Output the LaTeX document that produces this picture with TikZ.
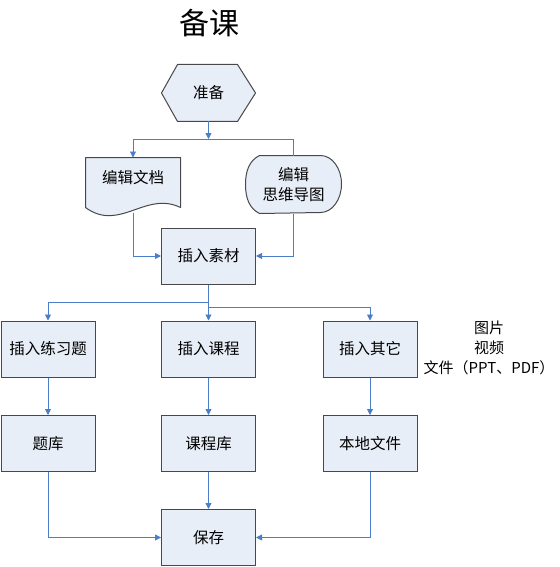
\documentclass[tikz,border=0pt]{standalone}
\usepackage{fontspec}
\newfontfamily\zhfont{Noto Sans CJK SC}
\usetikzlibrary{arrows.meta,backgrounds}
\definecolor{linkblue}{RGB}{74,126,198}
\definecolor{boxfill}{RGB}{232,238,247}
\definecolor{boxline}{RGB}{72,72,72}
\newcommand{\boxfont}{\zhfont\fontsize{15.5}{20}\selectfont}

\begin{document}
\begin{tikzpicture}[x=1pt, y=-1pt]
            \tikzset{box/.style = {draw=boxline, fill=boxfill, line width=1pt, inner sep=0pt,
                        minimum width=94pt, minimum height=56pt, font=\boxfont, align=center}}
            \tikzset{shapebox/.style = {box, draw=none, fill=none}}
            \tikzset{outline/.style = {draw=boxline, fill=boxfill, line width=1pt, line join=round}}
            \tikzset{link/.style = {draw=linkblue, line width=0.9pt}}
            \tikzset{arr/.style = {link, -{Triangle[width=6pt, length=6pt]}}}
            \useasboundingbox (0,0) rectangle (559,567);
            \node[font=\zhfont\fontsize{30}{30}\selectfont] (title) at (209,23) {备课};

            \node[shapebox, minimum width=93pt] (zb) at (208.5,93) {准备};
            \node[shapebox, minimum height=49pt] (wd) at (133,182.5) {};
            \node[font=\boxfont] (wdtext) at (133,178) {编辑文档};
            \node[shapebox, minimum width=95pt, minimum height=57pt] (dt) at (293.5,184.5) {编辑\\思维导图};
            \node[box] (sucai) at (208.5,256) {插入素材};

            \node[box] (lianxi) at (48,349) {插入练习题};
            \node[box] (kecheng) at (208.5,349) {插入课程};
            \node[box] (qita) at (370,349) {插入其它};
            \node[font=\zhfont\fontsize{15}{20}\selectfont, align=center] (qitanote) at (489,348)
                {图片\\视频\\文件（PPT、PDF）};

            \node[box] (tiku) at (48,443.5) {题库};
            \node[box] (kechengku) at (208.5,443.5) {课程库};
            \node[box] (bendi) at (370,443.5) {本地文件};
            \node[box] (baocun) at (208.5,537.5) {保存};

            \begin{scope}[on background layer]
                \path[outline] (zb.west) -- ([xshift=16pt]zb.north west) -- ([xshift=-18pt]zb.north east)
                    -- (zb.east) -- ([xshift=-18pt]zb.south east) -- ([xshift=16pt]zb.south west) -- cycle;
                \path[outline] (wd.south west) -- (wd.north west) -- (wd.north east) -- (wd.south east)
                    .. controls ([xshift=-35pt, yshift=17pt]wd.south east)
                    and ([xshift=34pt, yshift=-25pt]wd.south west) .. (wd.south west) -- cycle;
                \path[outline] ([xshift=14pt]dt.north west) -- ([xshift=-21pt]dt.north east)
                    arc[start angle=90, end angle=-90, x radius=21pt, y radius=28.5pt]
                    -- ([xshift=14pt]dt.south west)
                    .. controls ([xshift=4pt, yshift=5pt]dt.south west) and ([yshift=-14pt]dt.west) .. (dt.west)
                    .. controls ([yshift=14pt]dt.west) and ([xshift=4pt, yshift=-5pt]dt.north west)
                    .. ([xshift=14pt]dt.north west) -- cycle;
            \end{scope}

            \coordinate (j1) at (208.5,139);
            \coordinate (j2) at (208.5,302);
            \coordinate (j3) at (208.5,307);
            \draw[arr] (zb) -- (j1);
            \draw[arr] (j1) -| (wd);
            \draw[link] (j1) -| (dt);
            \draw[arr] ([yshift=-5pt]wd.south) |- (sucai);
            \draw[arr] (dt) |- (sucai);

            \draw[arr] (sucai) -- (kecheng);
            \draw[arr] (j2) -| (lianxi);
            \draw[arr] (j3) -| (qita);

            \draw[arr] (lianxi) -- (tiku);
            \draw[arr] (kecheng) -- (kechengku);
            \draw[arr] (qita) -- (bendi);

            \draw[arr] (tiku) |- (baocun);
            \draw[arr] (kechengku) -- (baocun);
            \draw[arr] (bendi) |- (baocun);
        \end{tikzpicture}
\end{document}
